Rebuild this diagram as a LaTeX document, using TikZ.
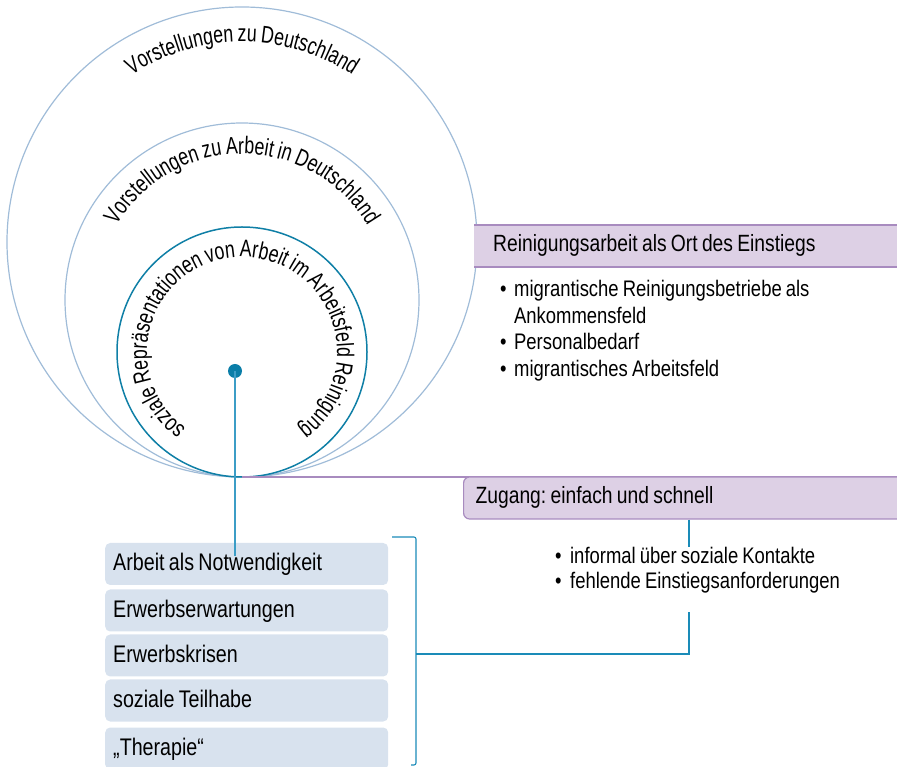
\documentclass[tikz,border=0pt]{standalone}
\usepackage{fontspec}
\setmainfont{Liberation Sans}[FakeStretch=0.82, WordSpace=0.8]
\newfontfamily\circfont{Liberation Sans}[FakeStretch=0.74, WordSpace=0.8]
\usetikzlibrary{decorations.text}
\definecolor{circlight}{HTML}{A0BCD8}
\definecolor{circdark}{HTML}{0F7FA6}
\definecolor{dotcol}{HTML}{0A7EA8}
\definecolor{dotline}{HTML}{3C9DC6}
\definecolor{purpline}{HTML}{A88BBF}
\definecolor{purpfill}{HTML}{DDD0E5}
\definecolor{bluefill}{HTML}{D8E2EE}
\definecolor{brackcol}{HTML}{1A8BB8}
\frenchspacing
\newcommand\myleftbox[2]{\makebox[#1][l]{#2}}
\begin{document}
\begin{tikzpicture}[x=1pt,y=1pt,
  bbox/.style={anchor=west, fill=bluefill, rounded corners=5pt, minimum width=283pt, minimum height=42pt,
    inner xsep=8pt, inner ysep=0pt, text height=16pt, text depth=2pt,
    font=\fontsize{24}{27}\selectfont},
  headbox/.style={anchor=west, fill=purpfill, inner ysep=0pt,
    font=\fontsize{23.5}{27}\selectfont},
  bulletlist/.style={anchor=base west, inner sep=0pt, font=\fontsize{22.5}{26.5}\selectfont},
  circtext/.style={decorate, decoration={text along path, text align=center, text={#1}}},
  conn/.style={brackcol, line width=1.1pt}
]
\useasboundingbox (0,0) rectangle (897,766);

% circles
\coordinate (T) at (242,289);
\coordinate (co) at (242,524);
\coordinate (cm) at (242,466);
\coordinate (ci) at (242,414);
\draw[circlight, line width=1.2pt] (co) circle[radius=235pt];
\draw[circlight, line width=1.2pt] (cm) circle[radius=177pt];
\draw[circdark, line width=1.5pt] (ci) circle[radius=125pt];

% circle texts
\path[circtext={|\circfont\fontsize{24}{26}\selectfont|Vorstellungen zu Deutschland}]
  (co) ++(160:200pt) arc[start angle=160, end angle=20, radius=200pt];
\path[circtext={|\circfont\fontsize{24}{26}\selectfont|Vorstellungen zu Arbeit in Deutschland}]
  (cm) ++(175:146pt) arc[start angle=175, end angle=5, radius=146pt];
\path[circtext={|\circfont\fontsize{24}{26}\selectfont|soziale Repräsentationen von Arbeit im Arbeitsfeld Reinigung}]
  (ci) ++(260:95pt) arc[start angle=260, end angle=-80, radius=95pt];

% purple line from tangent point
\coordinate (pr) at (897,289);
\draw[purpline, line width=1.1pt] (T) -- (pr);

% Reinigungsarbeit box
\node[headbox, minimum width=430pt, minimum height=42pt, inner xsep=19pt,
  text height=16pt, text depth=4pt] (rb) at (474,520) {\myleftbox{400pt}{Reinigungsarbeit als Ort des Einstiegs}};
\draw[purpline, line width=1.8pt] (rb.north west) -- (rb.north east);
\draw[purpline, line width=1.8pt] (rb.south west) -- (rb.south east);

\node[bulletlist] (rlist) at (500,469) {\begin{tabular}[t]{@{}l@{\hspace{7.5pt}}l@{}}
  •& migrantische Reinigungsbetriebe als\\
   & Ankommensfeld\\
  •& Personalbedarf\\
  •& migrantisches Arbeitsfeld
\end{tabular}};

% Zugang box
\node[headbox, draw=purpline, line width=1.2pt, rounded corners=6pt, minimum width=460pt, minimum height=42pt,
  inner xsep=12pt, text height=16pt, text depth=4pt] (zug) at (463,268) {\myleftbox{436pt}{Zugang: einfach und schnell}};

\node[bulletlist] (zlist) at (555,202) {\begin{tabular}[t]{@{}l@{\hspace{8.5pt}}l@{}}
  •& informal über soziale Kontakte\\[-1.5pt]
  •& fehlende Einstiegsanforderungen
\end{tabular}};

% blue boxes
\node[bbox] (b1) at (105,202) {\myleftbox{267pt}{Arbeit als Notwendigkeit}};
\node[bbox] (b2) at (105,155.5) {\myleftbox{267pt}{Erwerbserwartungen}};
\node[bbox] (b3) at (105,110.5) {\myleftbox{267pt}{Erwerbskrisen}};
\node[bbox] (b4) at (105,65.5) {\myleftbox{267pt}{soziale Teilhabe}};
\node[bbox] (b5) at (105,17.5) {\myleftbox{267pt}{„Therapie“}};

% dot and its line
\coordinate (dotend) at (235,210);
\node[circle, fill=dotcol, inner sep=0pt, minimum size=14pt] (dot) at (235,395) {};
\draw[dotline, line width=1.1pt] (dot.center) -- (dotend);

% bracket and connectors
\coordinate (bt) at (392,229);
\coordinate (btr) at (416,229);
\coordinate (bbr) at (416,1);
\coordinate (bb) at (411,1);
\draw[conn, rounded corners=2pt] (bt) -- (btr) -- (bbr) -- (bb);
\coordinate (brm) at (416,112);
\coordinate (zc) at (689,219);
\coordinate (zl) at (689,154);
\draw[conn] (zug.south -| zc) -- (zc);
\draw[conn] (brm) -- (brm -| zl) -- (zl);
\end{tikzpicture}
\end{document}
